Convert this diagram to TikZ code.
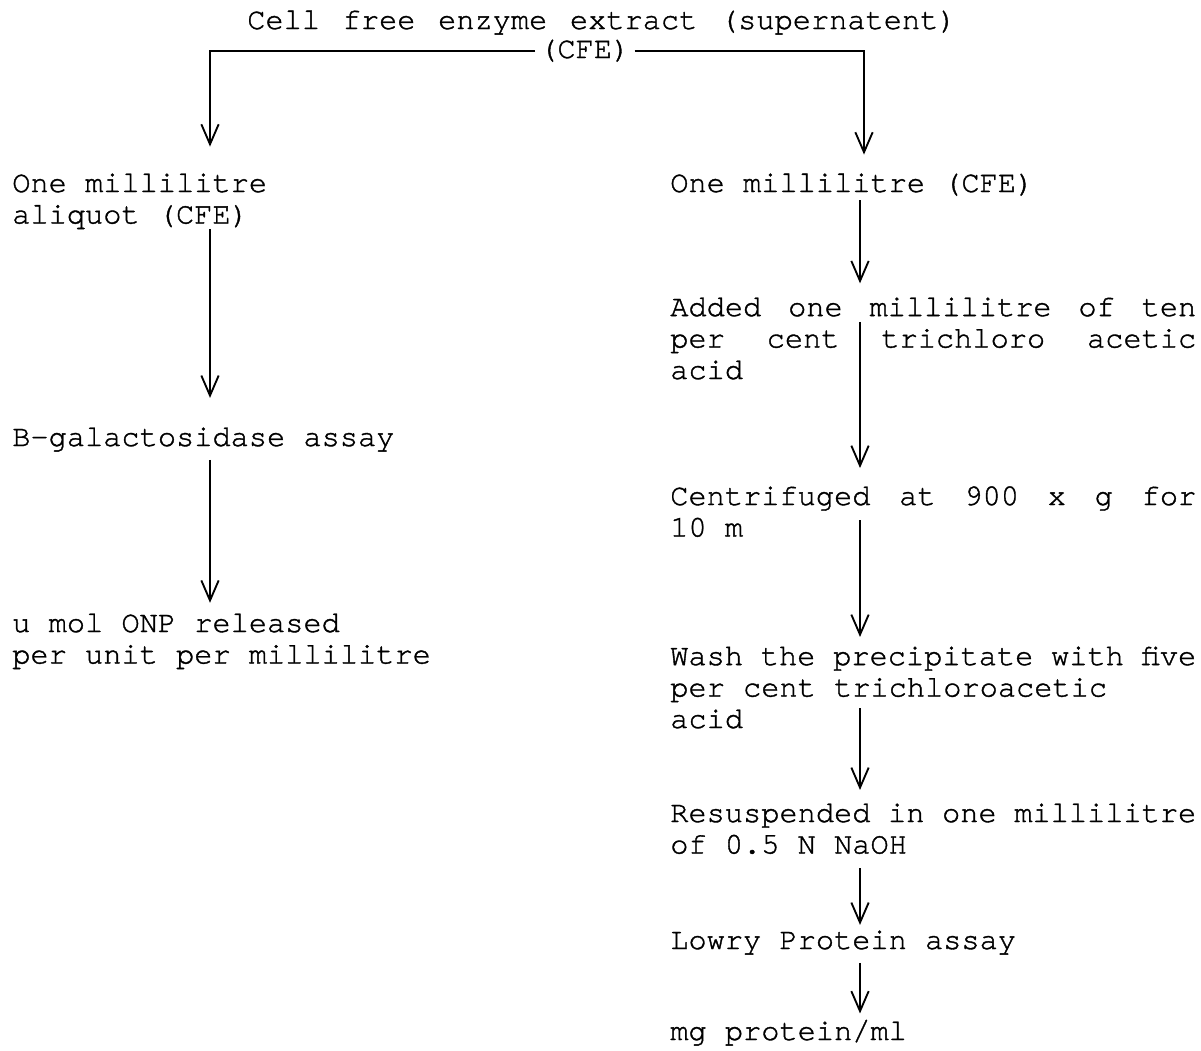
\documentclass[tikz,border=0pt]{standalone}
\usepackage{fontspec}
\setmainfont{TeX Gyre Cursor}[FakeBold=1.2]
\usetikzlibrary{arrows.meta}
\newlength\colw
\setlength\colw{394.5pt}
\newcommand{\jline}[1]{\makebox[\colw][s]{#1}}

\begin{document}
\begin{tikzpicture}[x=0.75pt,y=-0.75pt,
  txt/.style={anchor=base west, inner sep=0pt, align=left, font={\fontsize{22.75}{23.6}\selectfont}},
  arr/.style={-{Straight Barb[length=15pt,width=13pt]}, line width=1.4pt}]
\useasboundingbox (0,0) rectangle (1201,1050);

% Arrow columns
\coordinate (lx) at (210,0);
\coordinate (rx) at (864,0);
\coordinate (ry) at (860,0);

% Extract (base = last line)
\node[txt] (extract) at (247,29) {\makebox[532pt][s]{Cell\hss free\hss enzyme\hss extract\hss (supernatent)}};
\node[txt, inner xsep=3pt] (cfe) at (535,58) {(CFE)};

% Left branch
\node[txt] (aliquot) at (12,223.5) {One millilitre\\aliquot (CFE)};
\node[txt] (bgal) at (12,446) {B-galactosidase assay};
\node[txt] (onp) at (12,663.5) {u mol ONP released\\per unit per millilitre};

% Right branch
\node[txt] (onemil) at (670,192) {One millilitre (CFE)};
\node[txt] (tca) at (670,379) {\jline{Added\hss one\hss millilitre\hss of\hss ten}\\
  \jline{per\hss cent\hss trichloro\hss acetic}\\acid};
\node[txt] (spin) at (670,536.5) {\jline{Centrifuged\hss at\hss 900\hss x\hss g\hss for}\\10 m};
\node[txt] (wash) at (670,728) {\jline{Wash\hss the\hss precipitate\hss with\hss five}\\
  per cent trichloroacetic\\acid};
\node[txt] (naoh) at (670,853.5) {\jline{Resuspended\hss in\hss one\hss millilitre}\\of 0.5 N NaOH};
\node[txt] (lowry) at (670,949) {Lowry Protein assay};
\node[txt] (prot) at (670,1040) {mg protein/ml};

% Split
\draw[arr, shorten >=20pt] (cfe.west) -| (aliquot.north -| lx);
\draw[arr, shorten >=14pt] (cfe.east) -| (onemil.north -| rx);

% Left arrows
\draw[arr, shorten >=22pt] (aliquot.south -| lx) -- (bgal.north -| lx);
\draw[arr, shorten <=6pt, shorten >=8pt] (bgal.south -| lx) -- (onp.north -| lx);

% Right arrows
\draw[arr, shorten <=3pt, shorten >=10.5pt] (onemil.south -| ry) -- (tca.north -| ry);
\draw[arr, shorten <=18.5pt, shorten >=13.5pt] (tca.north -| ry) -- (spin.north -| ry);
\draw[arr, shorten <=25.5pt, shorten >=7pt] (spin.north -| ry) -- (wash.north -| ry);
\draw[arr, shorten <=46.5pt, shorten >=10pt] (wash.north -| ry) -- (naoh.north -| ry);
\draw[arr, shorten <=10.5pt, shorten >=4pt] (naoh.south -| ry) -- (lowry.north -| ry);
\draw[arr, shorten <=6pt, shorten >=4.5pt] (lowry.south -| ry) -- (prot.north -| ry);

\end{tikzpicture}
\end{document}
